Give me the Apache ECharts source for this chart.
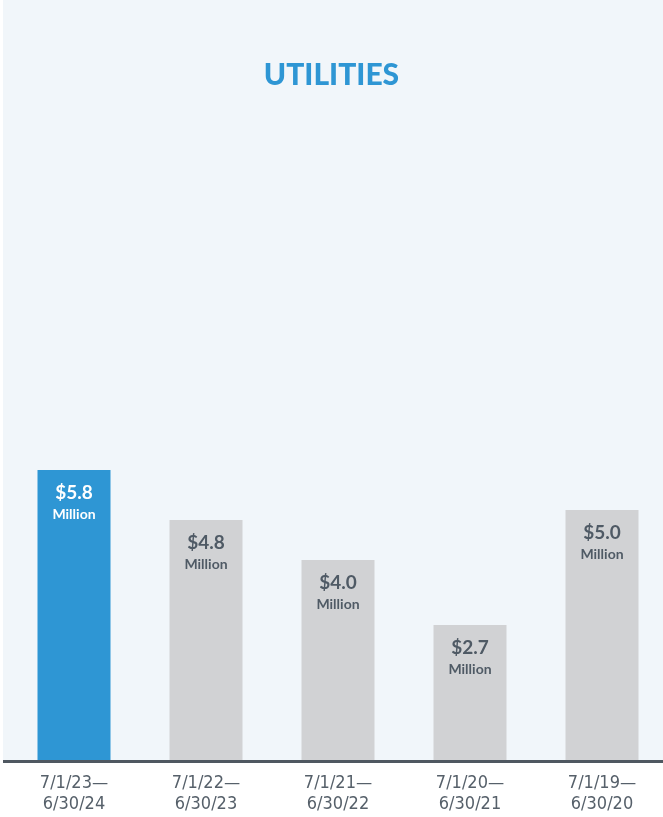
<!DOCTYPE html>
<html lang="en">
<head>
    <meta charset="UTF-8">
    <title>Utilities</title>
    <script src="https://cdn.jsdelivr.net/npm/echarts@6/dist/echarts.min.js"></script>
    <style>
        body { margin:0; background:#fff; }
        #panel { position:absolute; left:3px; top:0; width:660px; height:760px; background:#f1f6fa; border-bottom:3px solid #4f5861; }
        #ec { position:absolute; left:0; top:0; width:663px; height:817px; }
    </style>
</head>
<body>
    <div id="panel"></div>
    <div id="ec"></div>
</body>
<script>
    var periods = ['7/1/23—\n6/30/24', '7/1/22—\n6/30/23', '7/1/21—\n6/30/22', '7/1/20—\n6/30/21', '7/1/19—\n6/30/20']
    var values = [5.8, 4.8, 4.0, 2.7, 5.0]
    var highlight = 0

    var mychart = echarts.init(document.getElementById('ec'))

    var options = {
        title: {
            text: 'UTILITIES',
            left: 'center',
            top: 55,
            textStyle: { color:'#2e96d4', fontSize:30, fontWeight:900, fontFamily:'Lato', letterSpacing:1 }
        },
        grid: { left:8, right:-5, bottom:57, height:500, outerBoundsMode:'none', containLabel:false },
        xAxis: {
            type:'category',
            data: periods,
            axisLine: { show:false },
            axisTick: { show:false },
            axisLabel: {
                margin: 13,
                color:'#56606a',
                fontSize:18,
                lineHeight:21,
                fontFamily:'DejaVu Sans Condensed',
                fontWeight:'normal'
            }
        },
        yAxis: { type:'value', min:0, max:10, show:false },
        series: [{
            type:'bar',
            barWidth:73,
            data: values.map(function(v, i) {
                var hi = i === highlight
                return {
                    value: v,
                    itemStyle: { color: hi ? '#2e96d4' : '#d1d2d4' },
                    label: { color: hi ? '#fff' : '#4f5a65' }
                }
            }),
            label: {
                show:true,
                position:'insideTop',
                distance:12,
                fontFamily:'Lato',
                formatter: function(p) { return '{a|$' + p.value.toFixed(1) + '}\n{b|Million}' },
                rich: {
                    a: { fontSize:19, fontWeight:'bold', lineHeight:22, fontFamily:'Lato' },
                    b: { fontSize:14, fontWeight:'bold', lineHeight:20, fontFamily:'Lato' }
                }
            }
        }]
    }
    mychart.setOption(options)
</script>
</html>
